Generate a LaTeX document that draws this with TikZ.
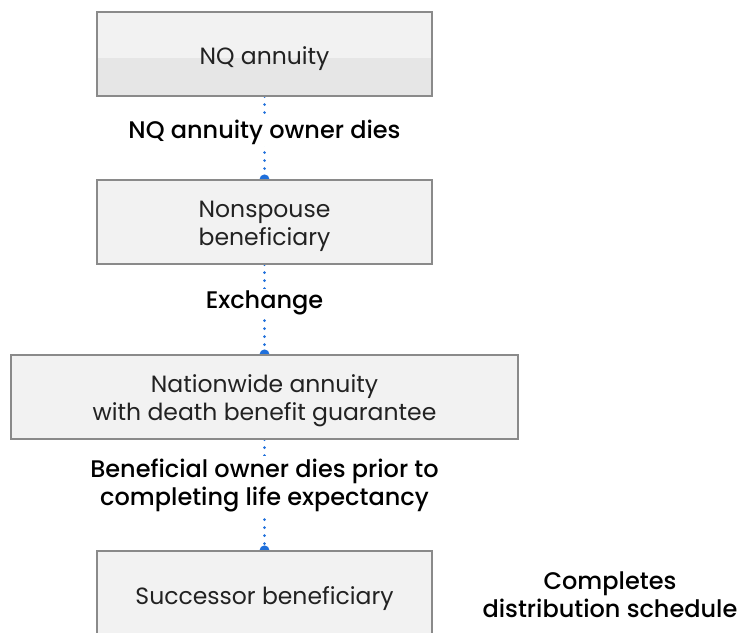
\documentclass[tikz,border=0pt]{standalone}
\usepackage{fontspec}
\setmainfont{Poppins}[BoldFont={* Medium}]
\usetikzlibrary{arrows.meta,backgrounds}
\definecolor{boxfill}{HTML}{F2F2F2}
\definecolor{boxshade}{HTML}{E6E6E6}
\definecolor{boxline}{HTML}{8A8A8A}
\definecolor{linkblue}{HTML}{1F6FDB}
\definecolor{ink}{HTML}{222222}
\begin{document}
\begin{tikzpicture}[x=1pt,y=-1pt,
  stagefont/.style={font=\fontsize{23.5}{28}\selectfont,text=ink},
  stage/.style={draw=boxline,line width=1.2pt,fill=boxfill,
    minimum width=335pt,minimum height=84pt,inner sep=0pt},
  label/.style={stagefont,align=center},
  event/.style={align=center,fill=white,inner sep=2pt,
    font=\fontsize{24}{28}\selectfont\bfseries},
  link/.style={draw=linkblue,line width=2.8pt,line cap=round,
    dash pattern=on 0pt off 8pt,
    -{Circle[length=10pt,fill=linkblue,line width=0pt]},shorten >=-5pt}]
\useasboundingbox (0,0) rectangle (741,632);

% stages (frames)
\node[stage] (nq) at (264.5,54) {};
\fill[boxshade] (97.6,58) rectangle (431.4,95.4);
\draw[boxline,line width=1.2pt] (97,12) rectangle (432,96);
\node[stage] (ns) at (264.5,222) {};
\node[stage,minimum width=507pt] (nw) at (264.5,397) {};
\node[stage,minimum height=100pt] (sb) at (264.5,601) {};

% stage texts
\node[label] (nqt) at (264.5,59) {NQ annuity};
\node[label] (nst) at (264.5,226) {Nonspouse\\beneficiary};
\node[label] (nwt) at (264.5,401) {Nationwide annuity\\with death benefit guarantee};
\node[label] (sbt) at (264.5,599) {Successor beneficiary};

% events
\node[event] (e1) at (264.5,132) {NQ annuity owner dies};
\node[event] (e2) at (264.5,303) {Exchange};
\node[event] (e3) at (264.5,485) {Beneficial owner dies prior to\\completing life expectancy};
\node[event,fill=none] (e4) at (610,594.5) {Completes\\distribution schedule};

% connectors
\begin{scope}[on background layer]
\draw[link] (nq.south) -- (ns.north);
\draw[link] (ns.south) -- (nw.north);
\draw[link] (nw.south) -- (sb.north);
\end{scope}
\end{tikzpicture}
\end{document}
